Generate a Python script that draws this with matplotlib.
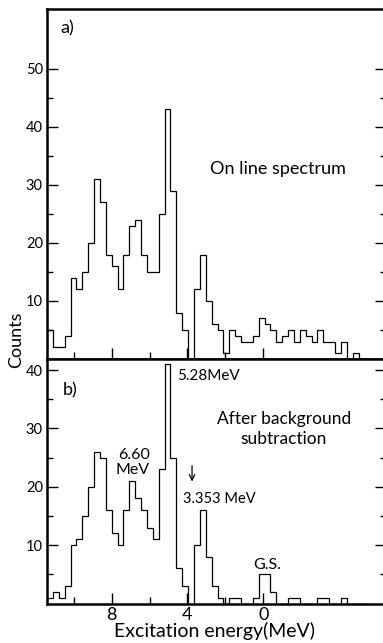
import numpy as np
import matplotlib
matplotlib.use("Agg")
import matplotlib.pyplot as plt
from matplotlib.ticker import FixedLocator, NullFormatter

plt.rcParams['font.family'] = ['Lato', 'DejaVu Sans']

# histogram binning (MeV), first bin starts at the left frame
e_start = 11.414
bin_w = 0.3103

# counts per bin (left to right = high to low energy)
online_counts = [5, 2, 2, 4, 14, 12, 15, 20, 31, 27, 18, 16, 12, 18, 23, 24, 18, 15,
                 15, 25, 43, 29, 8, 5, 0, 12, 18, 10, 6, 5, 1, 5, 4, 3, 3, 4, 7, 6,
                 5, 3, 4, 5, 3, 5, 4, 3, 5, 3, 3, 1, 3, 0, 1, 0]
subtracted_counts = [1, 2, 1, 3, 10, 11, 15, 20, 26, 25, 16, 12, 10, 16, 21, 18, 16, 13,
                     11, 23, 41, 25, 6, 3, 0, 10, 16, 8, 3, 1, 0, 1, 1, 0, 0, 1, 5, 5,
                     2, 0, 0, 1, 1, 0, 0, 0, 1, 1, 0, 0, 1, 0, 0, 0]

x_major = [8, 4, 0]
x_minor = [10, 6, 2]

W, H = 383, 643
fig = plt.figure(figsize=(W / 100, H / 100), dpi=100)

left_px, right_px = 47, 386
top_a, mid, bot_b = 9, 359, 603.5
xlim = (e_start, 8 - (right_px - 111.7) / 18.95)

def frac(x0, y0, x1, y1):
    return [x0 / W, 1 - y1 / H, (x1 - x0) / W, (y1 - y0) / H]

ax_a = fig.add_axes(frac(left_px, top_a, right_px, mid))
ax_b = fig.add_axes(frac(left_px, mid, right_px, bot_b))

def draw(ax, counts, ymax, yticks, yminor):
    counts = np.array(counts, dtype=float)
    edges = e_start - bin_w * np.arange(len(counts) + 1)
    ax.stairs(counts[::-1], edges[::-1], baseline=0, color='black', lw=0.9)
    ax.set_xlim(*xlim)
    ax.set_ylim(0, ymax)
    ax.yaxis.set_major_locator(FixedLocator(yticks))
    ax.yaxis.set_minor_locator(FixedLocator(yminor))
    ax.xaxis.set_major_locator(FixedLocator(x_major))
    ax.xaxis.set_minor_locator(FixedLocator(x_minor))
    ax.tick_params(axis='y', which='both', direction='in', left=True, right=True,
                   width=1.0, labelsize=10.5, pad=3)
    ax.tick_params(axis='y', which='major', length=8)
    ax.tick_params(axis='y', which='minor', length=4.5)
    ax.tick_params(axis='x', which='both', direction='in', top=False, bottom=True,
                   width=1.0, labelsize=13, pad=2.5)
    ax.tick_params(axis='x', which='major', length=8)
    ax.tick_params(axis='x', which='minor', length=5)
    for s in ax.spines.values():
        s.set_linewidth(1.8)

draw(ax_a, online_counts, 60.3, [10, 20, 30, 40, 50], [5, 15, 25, 35, 45])
ax_a.xaxis.set_major_formatter(NullFormatter())
draw(ax_b, subtracted_counts, 41.9, [10, 20, 30, 40], [5, 15, 25, 35])

# panel a annotations
ax_a.text(10.36, 56.9, 'a)', fontsize=13, ha='center', va='center')
ax_a.text(-0.77, 32.8, 'On line spectrum', fontsize=13, ha='center', va='center')

# panel b annotations
ax_b.text(10.2, 36.6, 'b)', fontsize=13, ha='center', va='center')
ax_b.text(4.55, 39.0, '5.28MeV', fontsize=11, ha='left', va='center')
ax_b.text(-1.09, 29.9, 'After background\nsubtraction', fontsize=12.5,
          ha='center', va='center', linespacing=1.25)
ax_b.text(5.98, 24.1, '6.60\nMeV', fontsize=11.5, ha='right', va='center',
          multialignment='right', linespacing=1.1)
ax_b.text(4.24, 17.9, '3.353 MeV', fontsize=10.5, ha='left', va='center')
ax_b.text(-0.2, 6.6, 'G.S.', fontsize=11.5, ha='center', va='center')
ax_b.annotate('', xy=(3.76, 20.9), xytext=(3.76, 23.6),
              arrowprops=dict(arrowstyle='->', color='black', lw=0.9,
                              shrinkA=0, shrinkB=0))

fig.text(215 / W, 1 - 631 / H, 'Excitation energy(MeV)', fontsize=14,
         ha='center', va='center')
fig.text(16.5 / W, 1 - 340 / H, 'Counts', fontsize=13, rotation=90,
         ha='center', va='center')

fig.savefig('out.png', dpi=100)
